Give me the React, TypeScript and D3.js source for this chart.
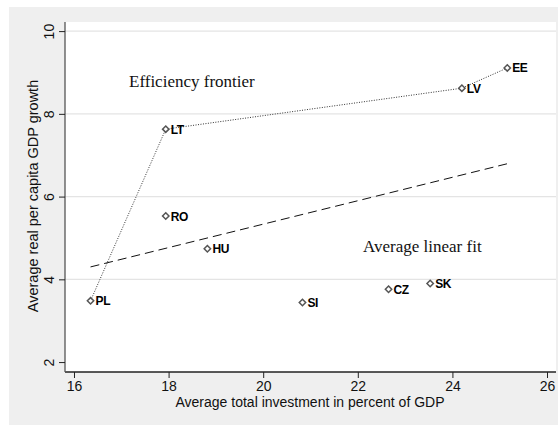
import * as d3 from "d3"
import { useRef, useEffect } from "react"

const countries = ["EE", "LV", "LT", "RO", "HU", "PL", "SI", "CZ", "SK"]
const investment = [25.16, 24.2, 17.94, 17.94, 18.82, 16.35, 20.83, 22.65, 23.53]
const growth = [9.11, 8.62, 7.63, 5.53, 4.74, 3.48, 3.44, 3.76, 3.9]
const frontier = ["PL", "LT", "LV", "EE"]
const fitX = [16.35, 25.18]
const fitY = [4.3, 6.8]
const xTicks = [16, 18, 20, 22, 24, 26]
const yTicks = [2, 4, 6, 8, 10]

export default function App() {
  const ref = useRef<SVGSVGElement>(null)

  useEffect(() => {
    const width = 558
    const height = 426
    const left = 65
    const right = 556
    const top = 22
    const bottom = 372

    const svg = d3.select(ref.current)
    svg.selectAll("*").remove()
    svg.attr("width", width).attr("height", height)

    const x = d3.scaleLinear().domain([15.81, 26.19]).range([left, right])
    const y = d3.scaleLinear().domain([1.76, 10.22]).range([bottom, top])

    svg.append("rect")
      .attr("x", 9).attr("y", 7)
      .attr("width", width - 9).attr("height", 418)
      .attr("fill", "#efefef")

    svg.append("rect")
      .attr("x", left).attr("y", top)
      .attr("width", right - left).attr("height", bottom - top)
      .attr("fill", "#ffffff")

    // grid
    svg.append("g")
      .selectAll("line")
      .data(yTicks.filter((d) => d > 2))
      .join("line")
      .attr("x1", left).attr("x2", right)
      .attr("y1", (d) => y(d)).attr("y2", (d) => y(d))
      .attr("stroke", "#e4e4e4")
      .attr("stroke-width", 1.2)

    // x axis
    const gx = svg.append("g")
      .attr("transform", `translate(0,${bottom})`)
      .call(d3.axisBottom(x).tickValues(xTicks).tickSize(6).tickPadding(3).tickFormat(d3.format("d")))
    gx.select(".domain").attr("d", `M${left},0H${right}`).attr("stroke", "#222").attr("stroke-width", 1.3)
    gx.selectAll(".tick line").attr("stroke", "#222")
    gx.selectAll(".tick text")
      .attr("font-family", "Liberation Sans, Arial, sans-serif")
      .attr("font-size", 14)
      .attr("fill", "#111")

    // y axis
    const gy = svg.append("g")
      .attr("transform", `translate(${left},0)`)
      .call(d3.axisLeft(y).tickValues(yTicks).tickSize(6).tickFormat(d3.format("d")))
    gy.select(".domain").attr("d", `M0,${top}V${bottom}`).attr("stroke", "#555").attr("stroke-width", 1.3)
    gy.selectAll(".tick line").attr("stroke", "#222")
    gy.selectAll(".tick text")
      .attr("x", 0).attr("dy", 0)
      .attr("text-anchor", "middle")
      .attr("transform", "translate(-11,0) rotate(-90)")
      .attr("font-family", "Liberation Sans, Arial, sans-serif")
      .attr("font-size", 14)
      .attr("fill", "#111")

    svg.append("text")
      .attr("x", 310).attr("y", 407)
      .attr("text-anchor", "middle")
      .attr("font-family", "Liberation Sans, Arial, sans-serif")
      .attr("font-size", 14)
      .attr("fill", "#111")
      .text("Average total investment in percent of GDP")

    svg.append("text")
      .attr("transform", `translate(38,196) rotate(-90)`)
      .attr("text-anchor", "middle")
      .attr("font-family", "Liberation Sans, Arial, sans-serif")
      .attr("font-size", 14.5)
      .attr("fill", "#111")
      .text("Average real per capita GDP growth")

    const data = countries.map((c, i) => ({ name: c, inv: investment[i], gr: growth[i] }))

    // frontier
    const frontierPts = frontier.map((c) => data.find((d) => d.name === c)!)
    const line = d3.line<{ inv: number; gr: number }>().x((d) => x(d.inv)).y((d) => y(d.gr))
    svg.append("path")
      .attr("d", line(frontierPts))
      .attr("fill", "none")
      .attr("stroke", "#333")
      .attr("stroke-width", 1)
      .attr("stroke-dasharray", "1,1.5")

    // linear fit
    const fitPts = fitX.map((v, i) => ({ inv: v, gr: fitY[i] }))
    svg.append("path")
      .attr("d", line(fitPts))
      .attr("fill", "none")
      .attr("stroke", "#111")
      .attr("stroke-width", 1)
      .attr("stroke-dasharray", "9,5")

    // markers
    const sym = d3.symbol().type(d3.symbolDiamond2).size(26)
    svg.append("g")
      .selectAll("path")
      .data(data)
      .join("path")
      .attr("transform", (d) => `translate(${x(d.inv)},${y(d.gr)})`)
      .attr("d", sym())
      .attr("fill", "#fff")
      .attr("stroke", "#555")
      .attr("stroke-width", 1.5)

    svg.append("g")
      .selectAll("text")
      .data(data)
      .join("text")
      .attr("x", (d) => x(d.inv) + 5)
      .attr("y", (d) => y(d.gr) + 4.5)
      .attr("font-family", "Liberation Sans, Arial, sans-serif")
      .attr("font-weight", "bold")
      .attr("font-size", 12)
      .attr("letter-spacing", -0.4)
      .attr("fill", "#000")
      .text((d) => d.name)

    svg.append("text")
      .attr("x", 129).attr("y", 87)
      .attr("font-family", "Liberation Serif, Times New Roman, serif")
      .attr("font-size", 17)
      .attr("fill", "#111")
      .text("Efficiency frontier")

    svg.append("text")
      .attr("x", 363).attr("y", 252)
      .attr("font-family", "Liberation Serif, Times New Roman, serif")
      .attr("font-size", 17)
      .attr("fill", "#111")
      .text("Average linear fit")
  }, [])

  return (
    <div style={{ position: "absolute", left: 0, top: 0 }}>
      <svg ref={ref}></svg>
    </div>
  )
}
